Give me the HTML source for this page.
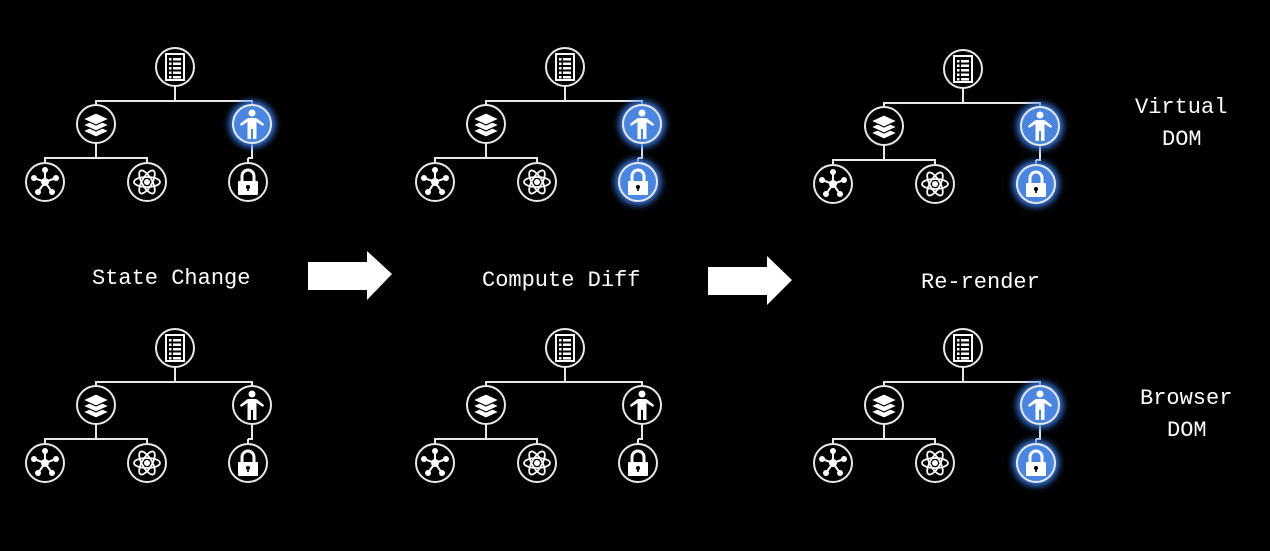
<!DOCTYPE html>
<html><head><meta charset="utf-8"><style>
html,body{margin:0;padding:0;background:#000;width:1270px;height:551px;overflow:hidden}
svg{display:block}
text{font-family:"Liberation Mono",monospace;fill:#fff;font-size:22px}
</style></head><body>
<svg id="s" width="1270" height="551" viewBox="0 0 1270 551">
<defs>
<filter id="glow" x="-60%" y="-60%" width="220%" height="220%">
<feGaussianBlur stdDeviation="3.5"/>
</filter>
</defs>
<g id="trees"></g>
<polygon points="308,262 367,262 367,251 392,274 367,300 367,290 308,290" fill="#fff"/>
<polygon points="708,267 767,267 767,256 792,280 767,305 767,295 708,295" fill="#fff"/>
<text x="92" y="284">State Change</text>
<text x="482" y="286">Compute Diff</text>
<text x="921" y="288">Re-render</text>
<text x="1135" y="113">Virtual</text>
<text x="1162" y="145">DOM</text>
<text x="1140" y="404">Browser</text>
<text x="1167" y="436">DOM</text>
</svg>
<script>
const W='#e8e8e8';
function icon(type,cx,cy,hl){
  let s='';
  const r=19;
  if(hl){
    s+=`<circle cx="${cx}" cy="${cy}" r="${r+4}" fill="#3a7be8" filter="url(#glow)"/>`;
    s+=`<circle cx="${cx}" cy="${cy}" r="${r+1}" fill="#4a86e0"/>`;
  }
  s+=`<circle cx="${cx}" cy="${cy}" r="${r}" fill="${hl?'#4a86e0':'#000'}" stroke="${W}" stroke-width="2"/>`;
  const g=`<g transform="translate(${cx},${cy})" fill="#fff" stroke="none">`;
  if(type==='list'){
    s+=g+`<rect x="-9" y="-13" width="18" height="26" fill="none" stroke="#fff" stroke-width="2"/>`;
    for(let i=0;i<5;i++){const y=-9+i*4.5;s+=`<rect x="-6" y="${y}" width="2.5" height="2.5"/><rect x="-2" y="${y}" width="8" height="2.5"/>`;}
    s+='</g>';
  } else if(type==='layers'){
    s+=g;
    for(let i=2;i>=0;i--){const y=i*6-5;s+=`<polygon points="-13,${y} 0,${y-6} 13,${y} 0,${y+6}" fill="#fff" stroke="#000" stroke-width="1.2"/>`;}
    s+='</g>';
  } else if(type==='person'){
    s+=g+`<circle cx="0" cy="-11" r="3.5"/><rect x="-4.5" y="-6" width="9" height="11" rx="1"/><rect x="-4.5" y="4" width="3.5" height="11"/><rect x="1" y="4" width="3.5" height="11"/>
    <polygon points="-4.5,-6 -12,0 -11,2 -4.5,-2"/><polygon points="4.5,-6 12,0 11,2 4.5,-2"/></g>`;
  } else if(type==='lock'){
    s+=g+`<path d="M-6,-1 V-6 A6,6 0 0 1 6,-6 V-1" fill="none" stroke="#fff" stroke-width="3"/><rect x="-10" y="-1" width="20" height="14" rx="1"/><circle cx="0" cy="5" r="2" fill="#000"/><rect x="-0.8" y="5" width="1.6" height="4" fill="#000"/></g>`;
  } else if(type==='net'){
    s+=g;
    const pts=[[0,-12],[11,-4],[7,10],[-7,10],[-11,-4]];
    pts.forEach(p=>{s+=`<line x1="0" y1="0" x2="${p[0]}" y2="${p[1]}" stroke="#fff" stroke-width="2"/><circle cx="${p[0]}" cy="${p[1]}" r="3"/>`;});
    s+=`<circle cx="0" cy="0" r="4"/></g>`;
  } else if(type==='atom'){
    s+=g;
    [0,60,120].forEach(a=>{s+=`<ellipse cx="0" cy="0" rx="13" ry="5" fill="none" stroke="#fff" stroke-width="1.8" transform="rotate(${a})"/>`;});
    s+=`<circle cx="0" cy="0" r="3"/></g>`;
  }
  return s;
}
function tree(dx,dy,hp,hl){
  const L=(x1,y1,x2,y2)=>`<line x1="${x1+dx}" y1="${y1+dy}" x2="${x2+dx}" y2="${y2+dy}" stroke="${W}" stroke-width="2"/>`;
  let s='';
  s+=L(175,86,175,101)+L(95,101,253,101)+L(96,101,96,105)+L(252,101,252,105);
  s+=L(96,143,96,158)+L(44,158,148,158)+L(45,158,45,163)+L(147,158,147,163);
  s+=L(252,143,252,158)+L(248,158,253,158)+L(248,158,248,163);
  s+=icon('list',175+dx,67+dy,false);
  s+=icon('layers',96+dx,124+dy,false);
  s+=icon('person',252+dx,124+dy,hl[0]);
  s+=icon('net',45+dx,182+dy,false);
  s+=icon('atom',147+dx,182+dy,false);
  s+=icon('lock',248+dx,182+dy,hl[1]);
  return s;
}
let out='';
out+=tree(0,0,0,[true,false]);
out+=tree(390,0,0,[true,true]);
out+=tree(788,2,0,[true,true]);
out+=tree(0,281,0,[false,false]);
out+=tree(390,281,0,[false,false]);
out+=tree(788,281,0,[true,true]);
document.getElementById('trees').innerHTML=out;
</script>
</body></html>
